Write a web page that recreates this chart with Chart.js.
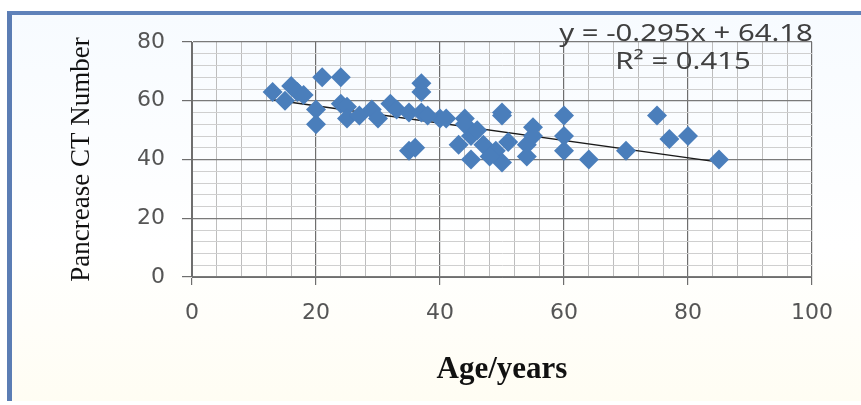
<!DOCTYPE html>
<html>
<head>
<meta charset="utf-8">
<script src="https://cdn.jsdelivr.net/npm/chart.js@4"></script>
<style>
  html, body { margin: 0; padding: 0; background: #ffffff; }
  #wrap { position: relative; width: 861px; height: 405px; overflow: hidden; }
  #frame { position: absolute; left: 7px; top: 11px; width: 854px; height: 390px;
           border-left: 5px solid #5b7db4; border-top: 4px solid #5f82ba;
           background: linear-gradient(#f7fbff, #ffffff 60%, #fffdf3); box-sizing: border-box; }
  canvas { position: absolute; left: 0; top: 0; }
</style>
</head>
<body>
<div id="wrap">
  <div id="frame"></div>
  <canvas id="c" width="861" height="405"></canvas>
</div>
<script>
// Data: age (years) and pancreas CT number
const ages = [13, 15, 16, 17, 18, 21, 24, 20, 20, 24, 25, 25, 27, 29, 30, 32, 33, 35, 37, 37, 37, 35, 36, 40, 38, 41, 44, 50, 50, 55, 60, 60, 60, 64, 43, 45, 45, 47, 49, 50, 51, 54, 54, 55, 48, 44, 46, 75, 77, 80, 70, 85];
const ctNumbers = [63, 60, 65, 63, 62, 68, 68, 57, 52, 59, 58, 54, 55, 57, 54, 59, 57, 56, 56, 66, 63, 43, 44, 54, 55, 54, 54, 56, 55, 51, 55, 48, 43, 40, 45, 48, 40, 45, 43, 39, 46, 45, 41, 48, 41, 52, 50, 55, 47, 48, 43, 40];
// Trendline from the printed equation
const trendSlope = -0.295;
const trendIntercept = 64.18;
const trendXRange = [13, 85];
const equationLabel = "y = -0.295x + 64.18";
const r2Label = "R\u00B2 = 0.415";
const xTitle = "Age/years";
const yTitle = "Pancrease CT Number";

const points = ages.map((a, i) => ({ x: a, y: ctNumbers[i] }));
const trend = trendXRange.map(x => ({ x: x, y: trendSlope * x + trendIntercept }));

const eqPlugin = {
  id: 'eqText',
  afterDatasetsDraw(chart) {
    const ctx = chart.ctx;
    const sx = 1.22;
    ctx.save();
    ctx.fillStyle = '#404040';
    ctx.font = '24px "Noto Sans"';
    ctx.textAlign = 'center';
    ctx.textBaseline = 'middle';
    ctx.scale(sx, 1);
    ctx.fillText(equationLabel, 686 / sx, 34);
    ctx.fillText(r2Label, 683 / sx, 62);
    ctx.restore();
  }
};

const tickFont = { family: '"DejaVu Sans"', size: 22 };

new Chart(document.getElementById('c'), {
  type: 'scatter',
  data: {
    datasets: [
      {
        label: 'CT',
        data: points,
        pointStyle: 'rectRot',
        pointRadius: 10,
        pointHoverRadius: 10,
        backgroundColor: '#4a7ebb',
        borderColor: '#4a7ebb',
        borderWidth: 0
      },
      {
        label: 'Trend',
        type: 'line',
        data: trend,
        borderColor: '#1a1a1a',
        borderWidth: 1.5,
        pointRadius: 0,
        fill: false
      }
    ]
  },
  options: {
    responsive: false,
    animation: false,
    layout: { padding: { left: 14, right: 49, top: 42, bottom: 0 } },
    plugins: { legend: { display: false }, tooltip: { enabled: false } },
    scales: {
      x: {
        type: 'linear',
        min: 0, max: 100,
        afterFit(s) { s.height = 128; },
        ticks: {
          stepSize: 4,
          autoSkip: false,
          maxRotation: 0,
          padding: 15,
          color: '#555555',
          font: tickFont,
          callback: v => (v % 20 === 0 ? String(v) : '')
        },
        grid: {
          color: ctx => (ctx.tick && ctx.tick.value % 20 === 0 ? '#6e6e6e' : '#bdbdbd'),
          lineWidth: ctx => (ctx.tick && ctx.tick.value % 20 === 0 ? 1.2 : 1),
          tickColor: ctx => (ctx.tick && ctx.tick.value % 20 === 0 ? '#6e6e6e' : 'rgba(0,0,0,0)'),
          tickLength: 8
        },
        border: { color: '#6e6e6e' },
        title: {
          display: true,
          text: xTitle,
          color: '#111111',
          font: { family: '"Liberation Serif"', size: 31, weight: 'bold' },
          padding: { top: 0, bottom: 16 }
        }
      },
      y: {
        type: 'linear',
        min: 0, max: 80,
        afterFit(s) { s.width = 178; },
        ticks: {
          stepSize: 4,
          autoSkip: false,
          padding: 17,
          color: '#555555',
          font: tickFont,
          callback: v => (v % 20 === 0 ? String(v) : '')
        },
        grid: {
          color: ctx => (ctx.tick && ctx.tick.value % 20 === 0 ? '#7a7a7a' : '#cfcfcf'),
          lineWidth: ctx => (ctx.tick && ctx.tick.value % 20 === 0 ? 1.2 : 1),
          tickColor: ctx => (ctx.tick && ctx.tick.value % 20 === 0 ? '#6e6e6e' : 'rgba(0,0,0,0)'),
          tickLength: 10
        },
        border: { color: '#6e6e6e' },
        title: {
          display: true,
          text: yTitle,
          color: '#111111',
          font: { family: '"Liberation Serif"', size: 27 },
          padding: { top: 52, bottom: 0 }
        }
      }
    }
  },
  plugins: [eqPlugin]
});
</script>
</body>
</html>
